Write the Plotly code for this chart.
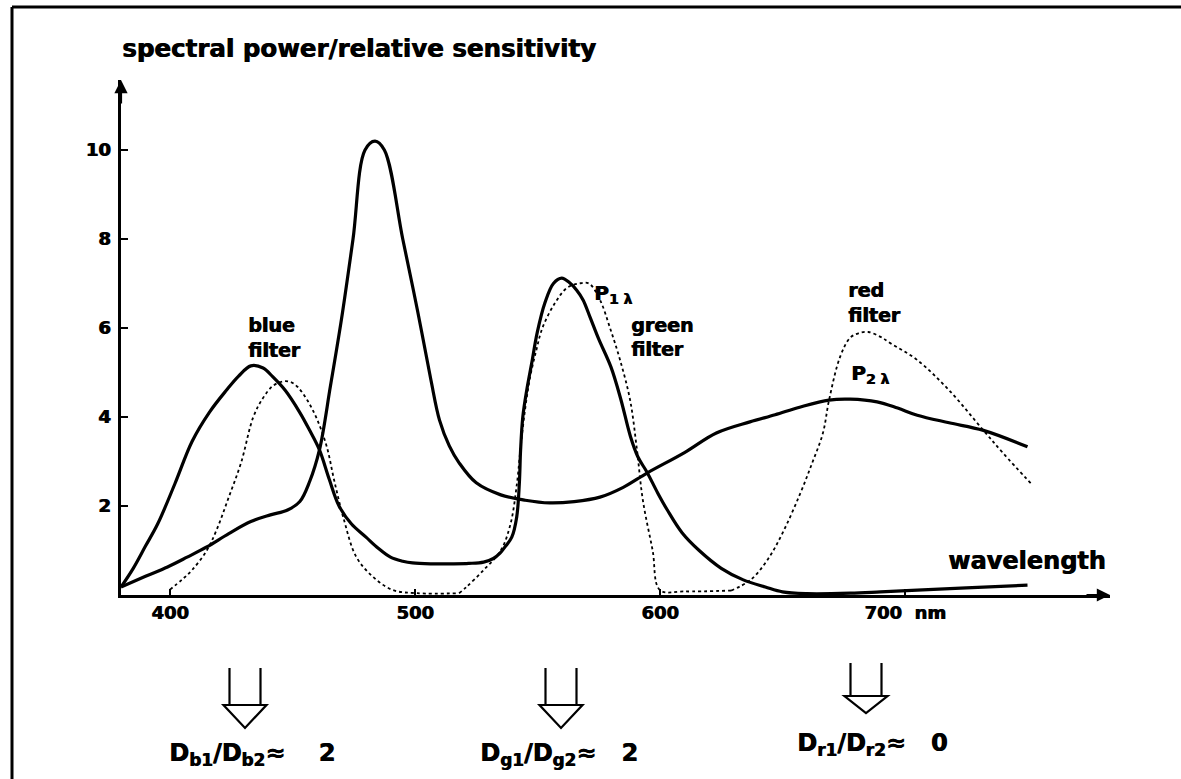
import plotly.graph_objects as go

# spectral power P1 (blue + green peaks)
wl_p1 = [380, 385, 390, 395, 402, 409, 416, 423, 428, 433, 438, 442, 447, 453, 457, 461,
         465, 469, 474, 480, 485, 490, 495, 499, 507, 515, 522, 528, 532, 534.7, 537,
         539.5, 541.5, 542.6, 543.1, 544, 545.6, 547.6, 549.9, 553, 556.5, 559.9, 563,
         566, 568.6, 571.4, 575, 580, 584, 588, 591, 594.7, 599, 603, 609, 616, 625, 634,
         643, 650, 660, 677.6, 690, 705, 725, 750]
p1 = [0.18, 0.6, 1.1, 1.6, 2.5, 3.45, 4.1, 4.6, 4.92, 5.15, 5.1, 4.9, 4.6, 4.1, 3.7, 3.26,
      2.6, 2.0, 1.6, 1.3, 1.05, 0.85, 0.76, 0.72, 0.7, 0.7, 0.71, 0.74, 0.82, 0.94, 1.1,
      1.3, 1.75, 2.52, 3.26, 4.0, 4.6, 5.2, 5.9, 6.56, 7.0, 7.12, 7.02,
      6.85, 6.63, 6.25, 5.75, 5.12, 4.4, 3.55, 3.1, 2.76, 2.3, 1.91, 1.4, 1.0, 0.6, 0.34,
      0.18, 0.07, 0.03, 0.04, 0.07, 0.11, 0.16, 0.22]

# spectral power P2 (sharp 485 nm line + broad red hump)
wl_p2 = [380, 390, 399, 407, 415, 424, 433, 441, 448, 453, 457, 461, 465.5, 470, 474.7,
         479.6, 483.7, 487.5, 495, 501, 506.5, 510, 514, 518, 525, 535, 545, 555, 565,
         575.5, 585, 594.7, 610, 623, 636.7, 647, 657, 669, 677.6, 688.6, 697, 705, 718,
         732, 750]
p2 = [0.18, 0.42, 0.63, 0.85, 1.08, 1.38, 1.65, 1.8, 1.91, 2.1, 2.55, 3.26, 4.7, 6.2, 8.0,
      10.0, 10.2, 10.0, 8.0, 6.4, 4.83, 3.93, 3.35, 2.97, 2.52, 2.25, 2.13, 2.07, 2.1,
      2.2, 2.42, 2.74, 3.2, 3.64, 3.89, 4.05, 4.22, 4.38, 4.4, 4.34, 4.2, 4.04, 3.87,
      3.7, 3.33]

# filter sensitivities (dotted)
wl_blue = [400, 405, 409, 415, 419, 424, 429, 434, 438, 442, 446, 449, 452, 456, 460, 464,
           467, 471, 476, 483, 491, 501, 518]
blue_f = [0.12, 0.35, 0.56, 1.0, 1.46, 2.2, 2.97, 4.0, 4.43, 4.7, 4.8, 4.79, 4.68, 4.38,
          3.95, 3.33, 2.58, 1.69, 0.86, 0.4, 0.11, 0.04, 0.04]

wl_green = [518, 521, 528, 535, 539, 541.6, 543, 545, 547, 549.5, 552, 557, 562, 567, 571,
            575.5, 579.6, 583.7, 587.8, 590.6, 593, 597, 600, 610, 629]
green_f = [0.04, 0.18, 0.56, 1.0, 1.6, 2.5, 3.26, 4.2, 4.9, 5.5, 6.0, 6.55, 6.9, 7.0, 7.0,
           6.63, 6.0, 5.28, 4.38, 3.26, 2.13, 1.0, 0.11, 0.08, 0.1]

wl_red = [629, 637, 644, 650, 657, 662, 666.5, 669, 673.5, 677.6, 681, 685, 690, 694, 705,
          718, 732, 740, 752]
red_f = [0.1, 0.34, 0.8, 1.39, 2.25, 2.95, 3.64, 4.38, 5.35, 5.78, 5.88, 5.91, 5.8, 5.66,
         5.28, 4.6, 3.7, 3.19, 2.47]

x_ticks = [400, 500, 600, 700]
x_labels = ["400", "500", "600", "700&nbsp;&nbsp;nm"]
y_ticks = [2, 4, 6, 8, 10]
ratio_labels = [
    "D<sub>b1</sub>/D<sub>b2</sub>≈&nbsp;&nbsp;&nbsp; 2",
    "D<sub>g1</sub>/D<sub>g2</sub>≈&nbsp;&nbsp; 2",
    "D<sub>r1</sub>/D<sub>r2</sub>≈&nbsp;&nbsp; 0",
]

W, H = 1181, 779
L, R, T, B = 121, 1110, 80, 595   # plot area in pixels
FONT = "DejaVu Sans"
HEAVY = "0.8px 0 0 black"


def px(x):
    return (x - L) / (R - L)


def py(y):
    return (B - y) / (B - T)


fig = go.Figure()

solid = dict(color="black", width=3.2)
dotted = dict(color="black", width=1.8, dash="dot")

for xs, ys, ln in [(wl_p1, p1, solid), (wl_p2, p2, solid), (wl_blue, blue_f, dotted),
                   (wl_green, green_f, dotted), (wl_red, red_f, dotted)]:
    fig.add_trace(go.Scatter(x=xs, y=ys, mode="lines", line=dict(ln, shape="spline", smoothing=1.0),
                             hoverinfo="skip"))

ann = []


def label(text, x, y, size, xanchor="left"):
    ann.append(dict(text=text, x=px(x), y=py(y), xref="paper", yref="paper",
                    xanchor=xanchor, yanchor="middle", showarrow=False,
                    font=dict(family=FONT, size=size, color="black", shadow=HEAVY)))


label("<b>spectral power/relative sensitivity</b>", 120, 48, 24.5)
label("<b>wavelength</b>", 946, 561, 24)
label("<b>blue</b>", 246, 325, 19)
label("<b>filter</b>", 246, 350, 19)
label("<b>green</b>", 629, 325, 19)
label("<b>filter</b>", 629, 349, 19)
label("<b>red</b>", 846, 290, 19)
label("<b>filter</b>", 846, 315, 19)
label("<b>P<sub>1 λ</sub></b>", 592, 294, 20)
label("<b>P<sub>2 λ</sub></b>", 849, 374, 20)
label("<b>" + ratio_labels[0] + "</b>", 167, 755, 24)
label("<b>" + ratio_labels[1] + "</b>", 478, 755, 24)
label("<b>" + ratio_labels[2] + "</b>", 795, 745, 24)

# axis arrowheads
ann.append(dict(x=1, y=0, xref="paper", yref="paper", ax=-25, ay=0, text="",
                showarrow=True, arrowhead=2, arrowsize=1.2, arrowwidth=2.2, arrowcolor="black"))
ann.append(dict(x=0, y=1, xref="paper", yref="paper", ax=0, ay=25, text="",
                showarrow=True, arrowhead=2, arrowsize=1.2, arrowwidth=2.2, arrowcolor="black"))

shapes = []
# frame: only the left and top edges are inside the picture
shapes.append(dict(type="line", xref="paper", yref="paper",
                   x0=px(12), x1=px(12), y0=py(800), y1=py(7),
                   line=dict(color="black", width=3)))
shapes.append(dict(type="line", xref="paper", yref="paper",
                   x0=px(12), x1=px(1200), y0=py(7), y1=py(7),
                   line=dict(color="black", width=3)))

# hollow down arrows under the spectrum
for cx, top, bar, tip in [(245, 668, 705, 728), (561, 668, 705, 728), (866, 663, 696, 713)]:
    path = (f"M {px(cx - 15.5)} {py(top)} L {px(cx - 15.5)} {py(bar)} "
            f"M {px(cx + 15.5)} {py(top)} L {px(cx + 15.5)} {py(bar)} "
            f"M {px(cx - 21.5)} {py(bar)} L {px(cx + 21.5)} {py(bar)} L {px(cx)} {py(tip)} Z")
    shapes.append(dict(type="path", xref="paper", yref="paper", path=path,
                       line=dict(color="black", width=2.2)))

fig.update_layout(
    width=W, height=H,
    margin=dict(l=L, r=W - R, t=T, b=H - B),
    paper_bgcolor="white", plot_bgcolor="white",
    showlegend=False,
    annotations=ann,
    shapes=shapes,
    font=dict(family=FONT, color="black"),
)

fig.update_xaxes(
    range=[380, 380 + (R - L) / 2.45], showgrid=False, zeroline=False,
    showline=True, linecolor="black", linewidth=2.5,
    ticks="inside", ticklen=6, tickwidth=2, tickcolor="black",
    tickvals=x_ticks, ticktext=[f"<b>{v}</b>" for v in x_labels],
    tickfont=dict(family=FONT, size=18, shadow=HEAVY), ticklabelstandoff=0,
)
fig.update_yaxes(
    range=[0, (B - T) / 44.5], showgrid=False, zeroline=False,
    showline=True, linecolor="black", linewidth=2.5,
    ticks="inside", ticklen=7, tickwidth=2, tickcolor="black",
    tickvals=y_ticks, ticktext=[f"<b>{v}</b>" for v in y_ticks],
    tickfont=dict(family=FONT, size=18, shadow=HEAVY), ticklabelstandoff=4,
)

fig.write_html("out.html", config={"displayModeBar": False},
               post_script="document.body.style.margin='0';")
